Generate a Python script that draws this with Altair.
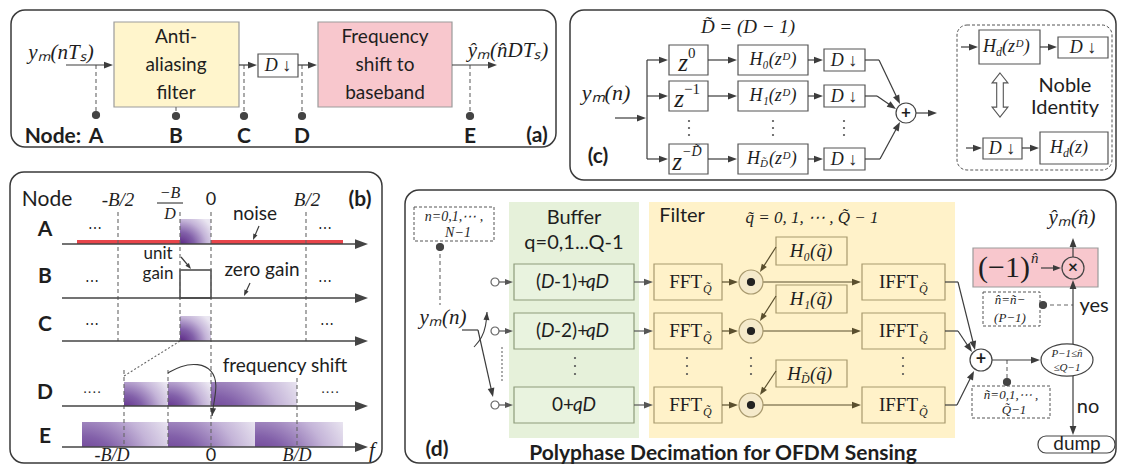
import math
import altair as alt
import pandas as pd

# ---------------- frame (reference pixel coordinates) ----------------
XS = alt.Scale(domain=[8, 1117], nice=False, zero=False)
YS = alt.Scale(domain=[8, 465], nice=False, zero=False, reverse=True)
W, H = 1109, 457

SANS = "Lato"
SERIF = "Liberation Serif"
INK = "#3c3c3c"
TXT = "#1e1e1e"
YELLOW = "#FFF5CC"
PINK = "#F8C7CD"
GREEN = "#E6F1DA"
FILT = "#FFF2C9"
OLIVE = "#A8996E"
DARKOL = "#5A4F2E"
RED = "#E8454B"

# ---------------- data ----------------
panel_frames = [(11, 10, 556, 147), (570, 10, 1116, 180), (10, 172, 382, 463), (405, 190, 1116, 463)]

rows_c = [60, 96, 159]
rows_d = [282, 331, 405]
sum_c = (906, 113)

boxes = [
    (114, 22, 239, 107, YELLOW, "#9b9b9b", 1.2),
    (318, 22, 452, 107, PINK, "#9b9b9b", 1.2),
    (258, 54, 298, 77, "white", "#555555", 1.2),
    (509, 202, 639, 438, GREEN, "transparent", 0),
    (649, 202, 955, 438, FILT, "transparent", 0),
    (979, 30, 1040, 64, "white", "#555555", 1.2),
    (1058, 37, 1108, 58, "white", "#555555", 1.2),
    (983, 138, 1022, 159, "white", "#555555", 1.2),
    (1040, 132, 1108, 164, "white", "#555555", 1.2),
    (180, 270, 211, 298, "transparent", "#444444", 1.5),
    (776, 237, 847, 265, FILT, OLIVE, 1.2),
    (776, 285, 847, 313, FILT, OLIVE, 1.2),
    (776, 360, 847, 387, FILT, OLIVE, 1.2),
    (973, 248, 1098, 287, PINK, "#9b9b9b", 1.2),
]
for y in rows_c:
    boxes += [(669, y - 15, 708, y + 15, "white", "#555555", 1.2),
              (738, y - 15, 808, y + 15, "white", "#555555", 1.2),
              (824, y - 11, 865, y + 11, "white", "#555555", 1.2)]
for y in rows_d:
    boxes += [(514, y - 18, 634, y + 18, "#E9F3DF", "#8E9C7B", 1.2),
              (654, y - 18, 722, y + 18, FILT, OLIVE, 1.2),
              (862, y - 18, 945, y + 18, FILT, OLIVE, 1.2)]

dashed_boxes = [(414, 207, 494, 241), (972, 386, 1050, 418), (983, 292, 1040, 326)]
dashed_round = [(957, 25, 1112, 170)]
round_boxes = [(1038, 436, 1115, 453)]

spectra = [(180, 219, 211, 244), (180, 316, 211, 341),
           (124, 382, 168, 406), (168, 382, 211, 406), (211, 382, 297, 406),
           (82, 422, 168, 447), (168, 422, 255, 447), (255, 422, 343, 447)]

red_noise = [(77, 242, 180, 242), (211, 242, 343, 242)]

rules = [(647, 60, 647, 159), (865, 60, 879, 60), (865, 96, 877, 96), (865, 159, 880, 159),
         (462, 330, 478, 330), (945, 282, 958, 282), (945, 331, 958, 331), (945, 405, 957, 405)]

dashed_rules = [(96, 65, 96, 113), (176, 107, 176, 114), (244, 65, 244, 114), (302, 65, 302, 114),
                (470, 65, 470, 114),
                (118, 212, 118, 341), (180, 212, 180, 341), (211, 212, 211, 447), (306, 212, 306, 341),
                (124, 370, 124, 447), (168, 370, 168, 447), (297, 378, 297, 447),
                (440, 247, 440, 305), (1007, 360, 1007, 381), (1043, 305, 1073, 305)]
dotted_rules = [(180, 341, 124, 376), (502, 347, 502, 383)]

# arrows: x1, y1, x2, y2, head length, colour
arrows = [
    (66, 65, 113, 65, 9, INK), (239, 65, 257, 65, 9, INK), (298, 65, 317, 65, 9, INK), (452, 65, 497, 65, 9, INK),
    (615, 118, 646, 118, 9, INK),
    (879, 60, sum_c[0] - 6, sum_c[1] - 9, 9, INK), (877, 96, sum_c[0] - 10, sum_c[1] - 4, 9, INK),
    (880, 159, sum_c[0] - 6, sum_c[1] + 9, 9, INK),
    (sum_c[0] + 10, sum_c[1], 937, sum_c[1], 9, INK),
    (961, 47, 978, 47, 9, INK), (1040, 47, 1057, 47, 9, INK), (966, 148, 982, 148, 9, INK), (1022, 148, 1039, 148, 9, INK),
    (259, 226, 253, 240, 6, INK), (181, 257, 191, 269, 6, INK), (250, 283, 244, 296, 6, INK),
    (958, 282, 975, 350, 9, INK), (958, 331, 972, 352, 9, INK), (957, 405, 974, 371, 9, INK),
    (992, 360, 1040, 360, 9, INK), (1073, 344, 1073, 280, 9, INK), (1041, 268, 1061, 268, 8, INK),
    (1073, 257, 1073, 238, 9, INK), (1073, 376, 1073, 435, 9, INK), (478, 330, 493, 397, 9, INK),
    (776, 247, 760, 272, 8, DARKOL), (776, 296, 760, 321, 8, DARKOL), (776, 371, 760, 395, 8, DARKOL),
]
for y in rows_c:
    arrows += [(647, y, 668, y, 9, INK), (708, y, 737, y, 9, INK), (808, y, 823, y, 9, INK)]
for y in rows_d:
    arrows += [(499, y, 513, y, 8, "#555555"), (634, y, 653, y, 9, "#555555"),
               (722, y, 738, y, 9, DARKOL), (763, y, 861, y, 9, DARKOL)]
axis_arrows = [(62, y, 368, y, 13, "#444444") for y in [244, 298, 341, 406, 447]]

curves = {
    "shift": [(168, 373), (180, 366), (198, 363), (213, 370), (217, 385), (214, 402), (212, 416)],
    "switch": [(474, 347), (482, 338), (486, 326), (487, 312)],
}

circles = [  # x, y, diameter, fill, stroke
    (96, 115, 7, "#444444", "#444444"), (176, 116, 7, "#444444", "#444444"), (244, 116, 7, "#444444", "#444444"),
    (302, 116, 7, "#444444", "#444444"), (470, 116, 7, "#444444", "#444444"),
    (sum_c[0], sum_c[1], 20, "white", "#444444"),
    (981, 360, 22, "white", "#444444"), (1073, 268, 22, PINK, "#444444"),
    (440, 247, 7, "#444444", "#444444"), (1007, 382, 7, "#444444", "#444444"), (1043, 305, 7, "#444444", "#444444"),
]
for y in rows_d:
    circles += [(495, y, 8, "white", "#666666"), (751, y, 24, "#F5EACB", OLIVE), (751, y, 7, "#222222", "#222222")]

ellipsis_dots = []
for x in [689, 773, 844]:
    ellipsis_dots += [(x, 121), (x, 128), (x, 135)]
for x in [575, 687, 751, 903]:
    ellipsis_dots += [(x, 358), (x, 366), (x, 374)]

ellipses = [(1067, 360)]
double_arrows = [(1000, 95)]

sans_c = [
    ("Anti-", 176, 37, 19), ("aliasing", 176, 65, 19), ("filter", 176, 93, 19),
    ("Frequency", 385, 37, 19), ("shift to", 385, 65, 19), ("baseband", 385, 93, 19),
    ("Noble", 1065, 86, 20), ("Identity", 1065, 108, 20),
    ("Node", 47, 200, 21), ("0", 211, 200, 18), ("noise", 255, 214, 19), ("unit", 158, 254, 17),
    ("gain", 158, 274, 17), ("zero gain", 262, 270, 19), ("frequency shift", 285, 366, 19), ("0", 211, 456, 18),
    ("Buffer", 574, 218, 20), ("q=0,1...Q-1", 574, 243, 20),
    ("Filter", 682, 216, 20),
    ("yes", 1094, 306, 20), ("no", 1088, 407, 20), ("dump", 1077, 444, 19),
]
# buffer row labels: upright pieces and italic pieces
sans_r = [("(", 541, 282, 19), ("(", 541, 331, 19)]
sans_l = [("-1)+", 554, 282, 19), ("-2)+", 554, 331, 19), ("0+", 552, 405, 19)]
sans_il = [("D", 541, 282, 19), ("qD", 586, 282, 19), ("D", 541, 331, 19), ("qD", 586, 331, 19),
           ("qD", 573, 405, 19)]
bold_c = [
    ("Node:", 53, 137, 21), ("A", 96, 137, 21), ("B", 176, 137, 21), ("C", 244, 137, 21), ("D", 302, 137, 21),
    ("E", 470, 137, 21), ("(a)", 537, 136, 21), ("(c)", 598, 157, 21), ("(b)", 360, 200, 21),
    ("A", 45, 230, 21), ("B", 45, 277, 21), ("C", 45, 325, 21), ("D", 45, 393, 21), ("E", 45, 437, 21),
    ("(d)", 437, 450, 21), ("Polyphase Decimation for OFDM Sensing", 723, 454, 21),
    ("+", sum_c[0], sum_c[1], 17), ("+", 981, 360, 18), ("×", 1073, 268, 17),
]
ital_c = [
    ("yₘ(nTₛ)", 61, 53, 21), ("ŷₘ(n̂DTₛ)", 508, 51, 21), ("D ↓", 278, 66, 18),
    ("D̃ = (D − 1)", 748, 27, 19), ("yₘ(n)", 606, 93, 22),
    ("H₀(zᴰ)", 773, 60, 18), ("H₁(zᴰ)", 773, 96, 18),
    ("D ↓", 844, 61, 18), ("D ↓", 844, 97, 18), ("D ↓", 844, 160, 18),
    ("D ↓", 1083, 48, 18), ("D ↓", 1002, 149, 18),
    ("-B/2", 118, 200, 19), ("B/2", 307, 200, 19), ("−B", 170, 193, 16), ("D", 170, 214, 16),
    ("-B/D", 112, 456, 18), ("B/D", 297, 456, 18), ("f", 372, 451, 21),
    ("n=0,1,⋯ ,", 454, 217, 14), ("N−1", 458, 233, 14), ("yₘ(n)", 443, 318, 21),
    ("q̃ = 0, 1, ⋯ , Q̃ − 1", 812, 218, 17), ("H₀(q̃)", 811, 251, 19), ("H₁(q̃)", 811, 299, 19),
    ("P−1≤n̂", 1067, 354, 11), ("≤Q−1", 1067, 368, 11), ("ñ=0,1,⋯ ,", 1011, 395, 13), ("Q̃−1", 1014, 410, 13),
    ("n̂=ñ−", 1010, 300, 13), ("(P−1)", 1010, 318, 13), ("ŷₘ(n̂)", 1072, 218, 21),
]
ital_r = [("H", 760, 159, 18), ("H", 801, 374, 19), ("H", 996, 47, 18), ("H", 1063, 148, 18),
          ("z", 688, rows_c[0] + 3, 25), ("z", 684, rows_c[1] + 3, 25), ("z", 682, rows_c[2] + 3, 25)]
ital_l = [
    ("D̃", 760, 164, 11), ("(zᴰ)", 769, 159, 18), ("D̃", 801, 379, 12), ("(q̃)", 810, 374, 19),
    ("d", 996, 52, 12), ("(zᴰ)", 1002, 47, 18), ("d", 1063, 153, 12), ("(z)", 1069, 148, 18),
    ("n̂", 1031, 258, 15), ("−D̃", 682, rows_c[2] - 7, 14),
]
roman_l = [("0", 688, rows_c[0] - 7, 15), ("−1", 684, rows_c[1] - 7, 15)]
roman_r = [("(−1)", 1030, 268, 30)]
roman_c = [("⋯", 95, 229, 14), ("⋯", 325, 229, 14), ("⋯", 92, 282, 14), ("⋯", 325, 282, 14),
           ("⋯", 92, 325, 14), ("⋯", 327, 325, 14), ("····", 92, 393, 14), ("····", 330, 393, 14)]
for y in rows_d:
    roman_r += [("FFT", 702, y, 19), ("IFFT", 918, y, 19)]
    ital_l += [("Q̃", 703, y + 7, 12), ("Q̃", 919, y + 7, 12)]
frac_bar = [(157, 203, 183, 203)]

# ---------------- helpers ----------------
def enc_xy(ch, two=False):
    e = dict(x=alt.X("x:Q", scale=XS, axis=None), y=alt.Y("y:Q", scale=YS, axis=None))
    if two:
        e.update(x2="x2:Q", y2="y2:Q")
    return ch.encode(**e)


def rect_layer(rows, fill_stroke=None, **kw):
    df = pd.DataFrame(rows, columns=["x", "y", "x2", "y2"] + (["fill", "stroke", "sw"] if fill_stroke else []))
    ch = alt.Chart(df).mark_rect(**kw)
    ch = enc_xy(ch, True)
    if fill_stroke:
        ch = ch.encode(fill=alt.Fill("fill:N", scale=None), stroke=alt.Stroke("stroke:N", scale=None),
                       strokeWidth=alt.StrokeWidth("sw:Q", scale=None))
    return ch


def rule_layer(rows, color=INK, width=1.2, dash=None):
    df = pd.DataFrame(rows, columns=["x", "y", "x2", "y2"])
    kw = dict(color=color, strokeWidth=width)
    if dash:
        kw["strokeDash"] = dash
    return enc_xy(alt.Chart(df).mark_rule(**kw), True)


HEAD = "M0,-1L0.75,1L-0.75,1Z"


def arrow_layers(arws, width=1.2):
    segs, heads = [], []
    for x1, y1, x2, y2, L, col in arws:
        dx, dy = x2 - x1, y2 - y1
        d = math.hypot(dx, dy)
        ux, uy = dx / d, dy / d
        cx, cy = x2 - ux * L / 2, y2 - uy * L / 2
        segs.append((x1, y1, cx, cy, col))
        heads.append((cx, cy, math.degrees(math.atan2(dx, -dy)) % 360, L * L, col))
    sdf = pd.DataFrame(segs, columns=["x", "y", "x2", "y2", "c"])
    hdf = pd.DataFrame(heads, columns=["x", "y", "ang", "size", "c"])
    s = enc_xy(alt.Chart(sdf).mark_rule(strokeWidth=width), True).encode(color=alt.Color("c:N", scale=None))
    h = enc_xy(alt.Chart(hdf).mark_point(shape=HEAD, filled=True, opacity=1, strokeWidth=0), False).encode(
        angle=alt.Angle("ang:Q", scale=None), size=alt.Size("size:Q", scale=None),
        fill=alt.Fill("c:N", scale=None))
    return [s, h]


def text_layer(rows, font, style="normal", weight="normal", align="center"):
    df = pd.DataFrame(rows, columns=["t", "x", "y", "size"])
    ch = alt.Chart(df).mark_text(font=font, fontStyle=style, fontWeight=weight, align=align,
                                 baseline="middle", color=TXT)
    return enc_xy(ch).encode(text=alt.Text("t:N"), size=alt.Size("size:Q", scale=None))


# gradient for spectra
grad = alt.Gradient(gradient="radial",
                    stops=[alt.GradientStop(color="#531C7E", offset=0),
                           alt.GradientStop(color="#8260A9", offset=0.4),
                           alt.GradientStop(color="#C4B4D8", offset=0.72),
                           alt.GradientStop(color="#EAE6F1", offset=1)],
                    x1=0, y1=1, r1=0, x2=0, y2=1, r2=1.2)

layers = []
layers.append(rect_layer(boxes, fill_stroke=True))
layers.append(rect_layer(panel_frames, cornerRadius=14, fill="transparent", stroke="#3a3a3a", strokeWidth=1.5))
layers.append(rect_layer(round_boxes, cornerRadius=8, fill="white", stroke="#444444", strokeWidth=1.2))
layers.append(rect_layer(dashed_round, cornerRadius=10, fill="transparent", stroke="#555555", strokeWidth=1,
                         strokeDash=[3, 2]))
layers.append(rect_layer(dashed_boxes, fill="white", stroke="#555555", strokeWidth=1, strokeDash=[3, 2]))
layers.append(rule_layer(red_noise, color=RED, width=4))
layers.append(rect_layer(spectra, fill=grad))
layers.append(rule_layer(rules))
layers.append(rule_layer(frac_bar, color=TXT, width=1))
layers.append(rule_layer(dashed_rules, color="#666666", width=1.1, dash=[4, 3]))
layers.append(rule_layer(dotted_rules, color="#666666", width=1.1, dash=[2, 2]))
layers += arrow_layers(arrows)
layers += arrow_layers(axis_arrows, width=1.6)

# curves
crows = []
for k, pts in curves.items():
    for i, (x, y) in enumerate(pts):
        crows.append((k, i, x, y))
cdf = pd.DataFrame(crows, columns=["id", "o", "x", "y"])
layers.append(enc_xy(alt.Chart(cdf).mark_line(color=INK, strokeWidth=1.1, interpolate="basis")).encode(
    detail="id:N", order="o:Q"))
cheads = []
for k, pts in curves.items():
    (xa, ya), (xb, yb) = pts[-2], pts[-1]
    cheads.append((xa, ya, xb, yb, 8, INK))
layers.append(arrow_layers(cheads)[1])

# circles
circ = pd.DataFrame([(x, y, d * d, f, s) for x, y, d, f, s in circles], columns=["x", "y", "size", "f", "s"])
layers.append(enc_xy(alt.Chart(circ).mark_point(shape="circle", filled=True, opacity=1, strokeWidth=1.2)).encode(
    size=alt.Size("size:Q", scale=None), fill=alt.Fill("f:N", scale=None), stroke=alt.Stroke("s:N", scale=None)))
dots = pd.DataFrame(ellipsis_dots, columns=["x", "y"])
layers.append(enc_xy(alt.Chart(dots).mark_point(shape="circle", filled=True, opacity=1, size=5, color="#555555")))
ell = pd.DataFrame(ellipses, columns=["x", "y"])
layers.append(enc_xy(alt.Chart(ell).mark_point(
    shape="M-1,0A1,0.62,0,1,1,1,0A1,0.62,0,1,1,-1,0Z", size=2704, filled=True, opacity=1,
    fill="white", stroke="#444444", strokeWidth=1.2)))
dbl = pd.DataFrame(double_arrows, columns=["x", "y"])
layers.append(enc_xy(alt.Chart(dbl).mark_point(
    shape="M0,-1L0.36,-0.55L0.15,-0.55L0.15,0.55L0.36,0.55L0,1L-0.36,0.55L-0.15,0.55L-0.15,-0.55L-0.36,-0.55Z",
    size=1936, filled=True, opacity=1, fill="white", stroke="#555555", strokeWidth=1.1)))

# texts
layers.append(text_layer(sans_c, SANS))
layers.append(text_layer(sans_r, SANS, align="right"))
layers.append(text_layer(sans_l, SANS, align="left"))
layers.append(text_layer(sans_il, SANS, style="italic", align="left"))
layers.append(text_layer(bold_c, SANS, weight="bold"))
layers.append(text_layer(ital_c, SERIF, style="italic"))
layers.append(text_layer(ital_r, SERIF, style="italic", align="right"))
layers.append(text_layer(ital_l, SERIF, style="italic", align="left"))
layers.append(text_layer(roman_l, SERIF, align="left"))
layers.append(text_layer(roman_r, SERIF, align="right"))
layers.append(text_layer(roman_c, SERIF))

chart = alt.layer(*layers).properties(width=W, height=H, padding=0, autosize="none",
                                      background="white").configure_view(stroke=None)
chart.save("out.html", embed_options={"renderer": "svg", "actions": False})
